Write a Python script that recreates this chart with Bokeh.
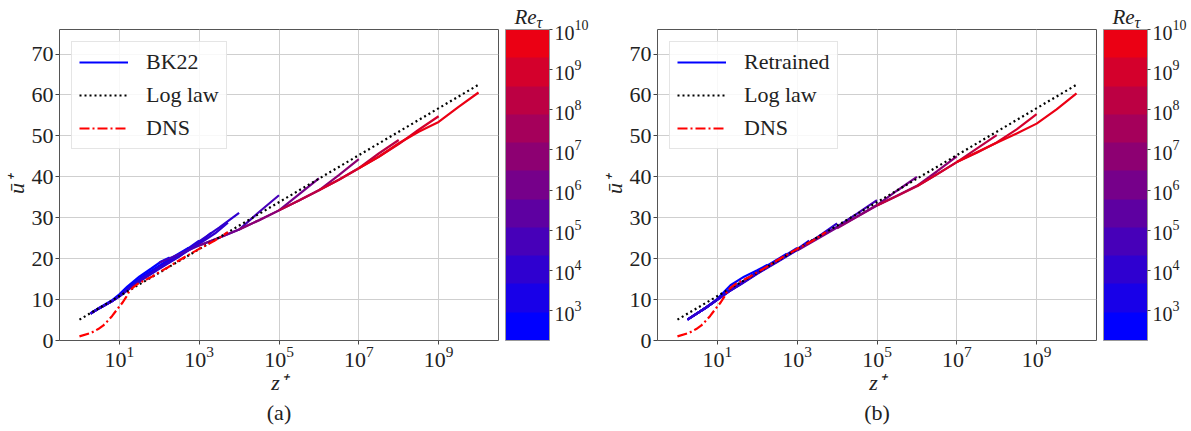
import math
import numpy as np
from bokeh.plotting import figure
from bokeh.models import (Range1d, FixedTicker, LogColorMapper, ColorBar, Legend,
                          LegendItem, Title, LogTickFormatter)
from bokeh.layouts import row
from bokeh.embed import file_html
from bokeh.resources import INLINE

# ---------------- data ----------------
RE_TAU = [180, 550, 1000, 2000, 5200, 1e4, 1e5, 1e6, 1e7, 1e8, 1e9, 1e10]

# panel (a) BK22 : log10(z+) and u+ for each Re_tau
BK22_LOGZ = [
    [0.28, 0.5, 0.8, 1.0, 1.2, 1.5, 1.8, 2.05, 2.26],
    [0.28, 0.5, 0.8, 1.0, 1.3, 1.6, 2.0, 2.4, 2.74],
    [0.28, 0.5, 0.8, 1.0, 1.3, 1.6, 2.0, 2.5, 3.0],
    [0.28, 0.5, 0.8, 1.0, 1.3, 1.6, 2.0, 2.5, 3.0, 3.3],
    [0.28, 0.5, 0.8, 1.0, 1.3, 1.6, 2.0, 2.5, 3.0, 3.4, 3.72],
    [0.28, 0.5, 0.8, 1.0, 1.3, 1.6, 2.0, 2.5, 3.0, 3.5, 4.0],
    [2.0, 2.5, 3.0, 3.5, 4.0, 4.5, 5.0],
    [3.0, 3.5, 4.0, 4.5, 5.0, 5.5, 6.0],
    [4.0, 4.5, 5.0, 5.5, 6.0, 6.5, 7.0],
    [5.0, 5.5, 6.0, 6.5, 7.0, 7.5, 8.0],
    [6.0, 6.5, 7.0, 7.5, 8.0, 8.5, 9.0],
    [7.0, 7.5, 8.0, 8.5, 9.0, 9.5, 10.0],
]
BK22_U = [
    [6.7, 8.0, 9.7, 11.3, 13.2, 15.6, 17.6, 19.3, 20.3],
    [6.6, 7.9, 9.6, 11.0, 13.6, 15.8, 18.3, 20.7, 22.7],
    [6.6, 7.9, 9.5, 10.9, 13.4, 15.5, 18.0, 21.0, 24.4],
    [6.6, 7.9, 9.5, 10.8, 13.2, 15.3, 17.8, 20.8, 23.8, 26.3],
    [6.6, 7.9, 9.5, 10.8, 13.1, 15.2, 17.7, 20.6, 23.6, 26.2, 28.8],
    [6.6, 7.9, 9.5, 10.8, 13.0, 15.0, 17.5, 20.5, 24.2, 27.6, 31.2],
    [19.0, 21.1, 23.2, 25.1, 27.1, 31.4, 35.5],
    [23.2, 25.1, 27.1, 29.4, 31.8, 35.7, 39.6],
    [27.1, 29.4, 31.8, 34.2, 36.7, 40.4, 44.3],
    [31.8, 34.2, 36.7, 39.3, 42.1, 45.7, 49.0],
    [36.7, 39.3, 42.1, 44.9, 48.0, 51.5, 54.8],
    [42.1, 44.9, 48.2, 51.0, 53.4, 57.1, 60.6],
]

# panel (b) Retrained
RETR_LOGZ = [
    [0.25, 0.71, 1.0, 1.33, 1.67, 2.0, 2.26],
    [0.25, 0.71, 1.0, 1.3, 1.6, 2.0, 2.4, 2.74],
    [0.25, 0.71, 1.0, 1.3, 1.6, 2.0, 2.5, 3.0],
    [0.25, 0.71, 1.0, 1.3, 1.6, 2.0, 2.5, 3.0, 3.3],
    [0.25, 0.71, 1.0, 1.3, 1.6, 2.0, 2.5, 3.0, 3.4, 3.72],
    [0.25, 0.71, 1.0, 1.3, 1.6, 2.0, 2.5, 3.0, 3.5, 4.0],
    [2.0, 2.5, 3.0, 3.5, 4.0, 4.5, 5.0],
    [3.0, 3.5, 4.0, 4.5, 5.0, 5.5, 6.0],
    [4.0, 4.5, 5.0, 5.5, 6.0, 6.5, 7.0],
    [5.0, 5.5, 6.0, 6.5, 7.0, 7.5, 8.0],
    [6.0, 6.5, 7.0, 7.5, 8.0, 8.5, 9.0],
    [7.0, 7.5, 8.0, 8.5, 9.0, 9.5, 10.0],
]
RETR_U = [
    [5.1, 8.0, 10.2, 13.5, 15.6, 17.2, 18.5],
    [5.1, 8.0, 10.0, 12.4, 14.2, 16.8, 19.2, 21.2],
    [5.1, 8.0, 10.0, 12.2, 14.0, 16.6, 19.6, 22.6],
    [5.1, 8.0, 10.0, 12.1, 13.9, 16.5, 19.4, 22.3, 24.4],
    [5.1, 8.0, 10.0, 12.1, 13.9, 16.4, 19.3, 22.2, 24.6, 26.4],
    [5.1, 8.0, 10.0, 12.0, 13.8, 16.3, 19.2, 22.1, 25.2, 28.6],
    [16.5, 19.4, 22.2, 25.0, 27.8, 31.0, 34.3],
    [22.0, 24.8, 27.6, 30.3, 33.1, 36.6, 40.0],
    [27.4, 30.2, 33.0, 35.4, 37.8, 41.3, 45.0],
    [33.0, 35.3, 37.7, 40.6, 43.6, 46.9, 50.2],
    [37.7, 40.6, 43.6, 45.9, 48.4, 51.6, 55.3],
    [43.6, 46.0, 48.3, 50.6, 53.0, 56.5, 60.4],
]

LOGLAW_LOGZ = [0.0, 10.0]
LOGLAW_U = [5.1, 62.5]

DNS_LOGZ = [0.0, 0.3, 0.47, 0.6, 0.72, 0.82, 0.92, 1.0, 1.09, 1.18, 1.26, 1.36, 1.47,
            1.65, 1.8, 2.0, 2.22, 2.45, 2.64, 2.82, 3.0, 3.2, 3.39, 3.55, 3.72]
DNS_U = [1.0, 1.9, 2.8, 3.7, 4.9, 6.0, 7.3, 8.3, 9.4, 10.8, 12.2, 13.1, 13.9,
         14.8, 15.5, 16.7, 17.9, 19.3, 20.4, 21.4, 22.4, 23.4, 24.4, 25.4, 26.5]

X_TICKS = [1e1, 1e3, 1e5, 1e7, 1e9]
Y_TICKS = [0, 10, 20, 30, 40, 50, 60, 70]
CB_TICKS = [1e3, 1e4, 1e5, 1e6, 1e7, 1e8, 1e9, 1e10]
RE_LOW, RE_HIGH = 180, 1e10

# ---------------- styling ----------------
PALETTE = ["#0000ff", "#1800e8", "#2f00d0", "#4700b9", "#5e00a1", "#76008a",
           "#8d0072", "#a5005b", "#bc0043", "#d4002c", "#eb0014"]
FONT = "Liberation Serif"
TXT = "#222222"


def re_color(re):
    lo, hi = math.log10(RE_LOW), math.log10(RE_HIGH)
    idx = int((math.log10(re) - lo) / (hi - lo) * len(PALETTE))
    return PALETTE[max(0, min(len(PALETTE) - 1, idx))]


def make_panel(logz_list, u_list, model_name, tag, right_border):
    p = figure(title=None, x_axis_type="log", x_range=Range1d(10 ** -0.5, 10 ** 10.5),
               y_range=Range1d(0, 76), frame_width=439, frame_height=311,
               min_border_left=59, min_border_top=29, min_border_bottom=88,
               min_border_right=right_border, output_backend="svg",
               toolbar_location=None)
    p.background_fill_color = "white"
    p.border_fill_color = "white"
    p.outline_line_color = "#555555"
    p.outline_line_width = 1

    p.xaxis.ticker = FixedTicker(ticks=X_TICKS)
    p.yaxis.ticker = FixedTicker(ticks=Y_TICKS)
    for ax in (p.xaxis, p.yaxis):
        ax.axis_line_color = None
        ax.major_tick_in = 0
        ax.major_tick_out = 4
        ax.major_tick_line_color = "#444444"
        ax.minor_tick_line_color = None
        ax.major_label_text_font = FONT
        ax.major_label_text_font_size = "22px"
        ax.major_label_text_color = TXT
        ax.major_label_standoff = 2
        ax.axis_label_text_font = FONT
        ax.axis_label_text_font_style = "italic"
        ax.axis_label_text_font_size = "22px"
        ax.axis_label_text_color = TXT
    p.xaxis.axis_label = "z⁺"
    p.xaxis.axis_label_standoff = 0
    p.yaxis.axis_label = "ū⁺"
    p.yaxis.axis_label_standoff = 0
    p.grid.grid_line_color = "#cfcfcf"
    p.grid.grid_line_width = 1

    renderers = []
    for re, lz, u in zip(RE_TAU, logz_list, u_list):
        z = [10 ** v for v in lz]
        r = p.line(z, u, line_color=re_color(re), line_width=2.2)
        renderers.append(r)

    ll = p.line([10 ** v for v in LOGLAW_LOGZ], LOGLAW_U, line_color="black",
                line_width=2.2, line_dash="2 3")
    dns = p.line([10 ** v for v in DNS_LOGZ], DNS_U, line_color="#ff0000",
                 line_width=2.2, line_dash="10 3 2 3")

    legend = Legend(items=[LegendItem(label=model_name, renderers=[renderers[0]]),
                           LegendItem(label="Log law", renderers=[ll]),
                           LegendItem(label="DNS", renderers=[dns])],
                    location="top_left", margin=12, padding=7, spacing=7,
                    glyph_width=49, glyph_height=24, label_height=24,
                    label_standoff=18, label_text_font=FONT,
                    label_text_font_size="22px", label_text_color=TXT,
                    border_line_color="#cccccc", border_line_width=1,
                    background_fill_alpha=0.85)
    p.add_layout(legend)

    mapper = LogColorMapper(palette=PALETTE, low=RE_LOW, high=RE_HIGH)
    cb = ColorBar(color_mapper=mapper, ticker=FixedTicker(ticks=CB_TICKS),
                  formatter=LogTickFormatter(), width=44, height=311,
                  location=(446, 0), padding=0, label_standoff=2,
                  major_tick_in=0, major_tick_out=3, major_tick_line_color="#444444",
                  minor_tick_line_color=None, bar_line_color="#999999",
                  major_label_text_font=FONT, major_label_text_font_size="20px",
                  major_label_text_color=TXT,
                  background_fill_alpha=0, border_line_color=None)
    p.add_layout(cb)

    # colour-bar heading  Re_tau  (two titles: "Re" and a lowered subscript "τ")
    p.add_layout(Title(text="Re", align="left", offset=455, standoff=1,
                       text_font=FONT, text_font_style="italic",
                       text_font_size="21px", text_color=TXT), "above")
    p.add_layout(Title(text="τ", align="left", offset=477, standoff=-56,
                       text_font=FONT, text_font_style="italic",
                       text_font_size="16px", text_color=TXT), "above")

    p.add_layout(Title(text=tag, align="center", text_font=FONT,
                       text_font_style="normal", text_font_size="22px",
                       text_color=TXT, standoff=0), "below")
    return p


p1 = make_panel(BK22_LOGZ, BK22_U, "BK22", "(a)", 100)
p2 = make_panel(RETR_LOGZ, RETR_U, "Retrained", "(b)", 94)

layout = row(p1, p2, spacing=0)
open("out.html", "w").write(file_html(layout, INLINE))
